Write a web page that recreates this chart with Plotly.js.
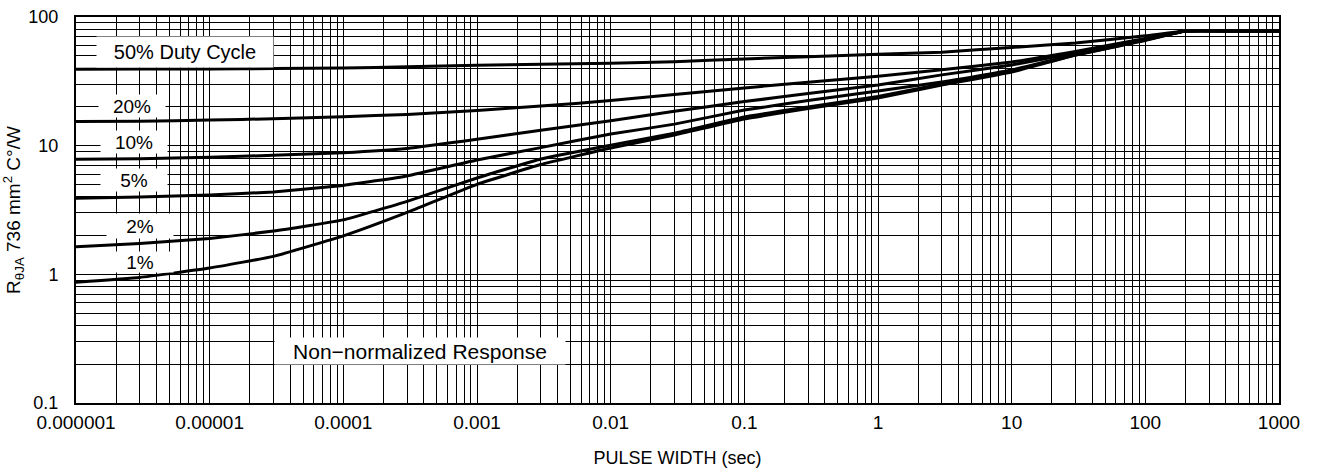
<!DOCTYPE html>
<html>
<head>
<meta charset="utf-8">
<script src="https://cdn.plot.ly/plotly-3.0.1.min.js"></script>
<style>
html, body { margin: 0; padding: 0; background: #fff; }
#chart { width: 1325px; height: 469px; }
</style>
</head>
<body>
<div id="chart"></div>
<script>
// Pulse width (sec)
const pulseWidth = [1e-6, 3e-6, 1e-5, 3e-5, 1e-4, 3e-4, 1e-3, 3e-3, 1e-2, 3e-2, 0.1, 0.3, 1, 3, 10, 30, 100, 200, 500, 1000];
// R thetaJA (C/W) per duty cycle
const duty50 = [39.2, 39.4, 39.5, 39.7, 40.2, 41.0, 42.1, 43.0, 43.8, 44.9, 47.2, 49.1, 51.3, 53.3, 58.0, 62.8, 71.4, 77.8, 77.8, 77.8];
const duty20 = [15.4, 15.5, 15.8, 16.2, 16.8, 17.5, 18.8, 20.3, 22.4, 25.0, 28.1, 31.1, 34.6, 38.9, 44.7, 54.0, 68.1, 77.8, 77.8, 77.8];
const duty10 = [7.84, 7.93, 8.13, 8.42, 8.82, 9.51, 11.2, 13.2, 15.6, 18.5, 22.0, 25.4, 29.6, 35.5, 42.4, 52.5, 67.5, 77.8, 77.8, 77.8];
const duty5  = [3.90, 3.99, 4.14, 4.37, 4.91, 5.82, 7.74, 9.66, 12.3, 14.7, 18.9, 22.4, 26.6, 31.2, 38.7, 51.1, 66.9, 77.8, 77.8, 77.8];
const duty2  = [1.64, 1.74, 1.90, 2.17, 2.65, 3.69, 5.61, 7.88, 10.1, 12.5, 16.7, 20.0, 24.1, 30.2, 38.0, 50.7, 66.3, 77.8, 77.8, 77.8];
const duty1  = [0.868, 0.946, 1.12, 1.38, 1.99, 3.03, 5.01, 7.13, 9.59, 12.1, 16.1, 19.4, 23.5, 29.6, 37.4, 50.7, 65.7, 77.8, 77.8, 77.8];

const seriesNames = ['50% Duty Cycle', '20%', '10%', '5%', '2%', '1%'];
const seriesValues = [duty50, duty20, duty10, duty5, duty2, duty1];

const xTickVals = [1e-6, 1e-5, 1e-4, 1e-3, 1e-2, 1e-1, 1, 10, 100, 1000];
const xTickText = ['0.000001', '0.00001', '0.0001', '0.001', '0.01', '0.1', '1', '10', '100', '1000'];
const yTickVals = [0.1, 1, 10, 100];
const yTickText = ['0.1', '1', '10', '100'];

// minor grid positions (2..9 within each decade)
function minorVals(lo, hi) {
  const v = [];
  for (let e = lo; e < hi; e++) {
    for (let m = 2; m <= 9; m++) v.push(m * Math.pow(10, e));
  }
  return v;
}

const FONT = 'Liberation Sans, Arial, Helvetica, sans-serif';
const GRID = '#000';

const traces = seriesValues.map((vals, i) => ({
  type: 'scatter',
  mode: 'lines',
  name: seriesNames[i],
  x: pulseWidth,
  y: vals,
  line: { color: '#000', width: 3, shape: 'spline', smoothing: 0.35 },
  hoverinfo: 'skip'
}));

function lbl(text, lx, ly, w, h, size) {
  return {
    text: text, xref: 'x', yref: 'y', x: lx, y: ly,
    showarrow: false, bgcolor: '#fff', borderpad: 0,
    width: w, height: h, align: 'center', valign: 'middle',
    font: { family: FONT, size: size, color: '#000' }
  };
}

const layout = {
  width: 1325, height: 469,
  margin: { l: 76, r: 46, t: 17, b: 66 },
  paper_bgcolor: '#fff', plot_bgcolor: '#fff',
  showlegend: false,
  font: { family: FONT, color: '#000' },
  xaxis: {
    type: 'log', range: [-6, 3],
    tickmode: 'array', tickvals: xTickVals, ticktext: xTickText,
    ticks: '', ticklabelstandoff: 1,
    tickfont: { family: FONT, size: 19, color: '#000' },
    showgrid: true, gridcolor: GRID, gridwidth: 1,
    minor: { tickmode: 'array', tickvals: minorVals(-6, 3), showgrid: true, gridcolor: GRID, gridwidth: 1, ticks: '' },
    showline: true, linecolor: '#000', linewidth: 2, mirror: true,
    zeroline: false, automargin: false,
    title: { text: 'PULSE WIDTH (sec)', font: { family: FONT, size: 18, color: '#000' }, standoff: 20 }
  },
  yaxis: {
    type: 'log', range: [-1, 2],
    tickmode: 'array', tickvals: yTickVals, ticktext: yTickText,
    ticks: '', ticklabelstandoff: 12,
    tickfont: { family: FONT, size: 18, color: '#000' },
    showgrid: true, gridcolor: GRID, gridwidth: 1,
    minor: { tickmode: 'array', tickvals: minorVals(-1, 2), showgrid: true, gridcolor: GRID, gridwidth: 1, ticks: '' },
    showline: true, linecolor: '#000', linewidth: 2, mirror: true,
    zeroline: false, automargin: false,
    title: { text: 'R<sub>θJA</sub> 736 mm<sup>2</sup> C°/W', font: { family: FONT, size: 19, color: '#000' }, standoff: 3 }
  },
  annotations: [
    lbl('50% Duty Cycle', -5.1845, 1.725, 176, 30, 20),
    lbl('20%', -5.581, 1.308, 66, 22, 19),
    lbl('10%', -5.566, 1.025, 66, 22, 19),
    lbl('5%', -5.566, 0.733, 66, 22, 19),
    lbl('2%', -5.521, 0.376, 66, 24, 19),
    lbl('1%', -5.521, 0.096, 66, 20, 19),
    lbl('Non−normalized Response', -3.4264, -0.596, 290, 26, 21)
  ]
};

Plotly.newPlot('chart', traces, layout, { staticPlot: true, displayModeBar: false });
</script>
</body>
</html>
